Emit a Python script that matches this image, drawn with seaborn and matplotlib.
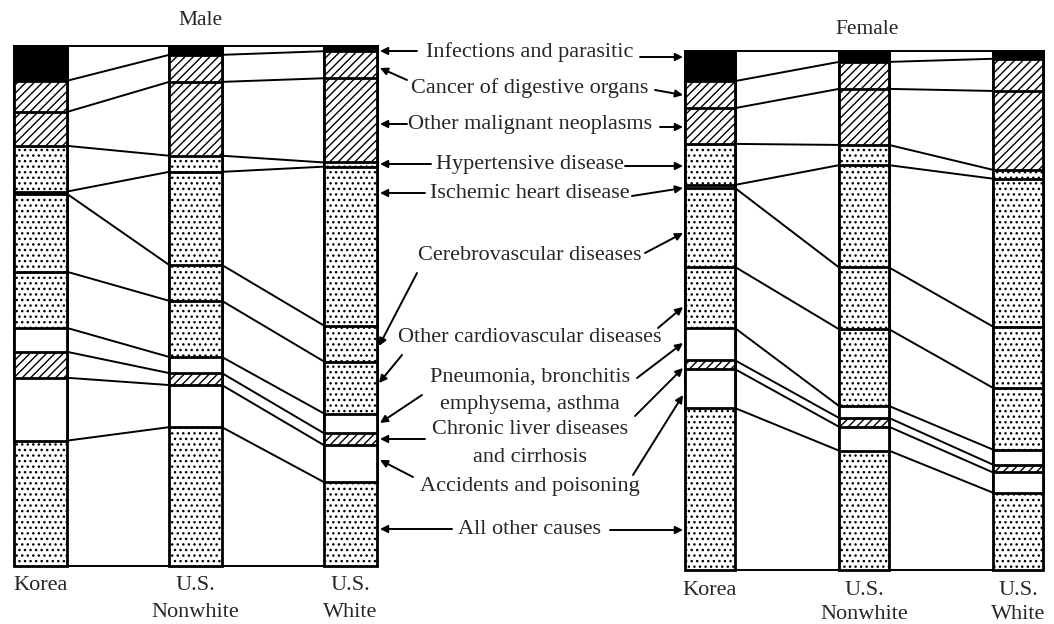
import numpy as np
import pandas as pd
import seaborn as sns
import matplotlib
matplotlib.use("Agg")
import matplotlib.pyplot as plt

# ---------------- data (percent of deaths, listed from top of bar) ----------------
causes = ["Infections and parasitic", "Cancer of digestive organs",
          "Other malignant neoplasms", "Hypertensive disease",
          "Ischemic heart disease", "Cerebrovascular diseases",
          "Other cardiovascular diseases", "Pneumonia, bronchitis emphysema, asthma",
          "Chronic liver diseases and cirrhosis", "Accidents and poisoning",
          "All other causes"]
populations = ["Korea", "U.S.\nNonwhite", "U.S.\nWhite"]

male_korea    = [6.7, 6.0, 6.5, 8.8, 0.4, 15.0, 10.8, 4.6, 5.0, 12.1, 24.1]
male_nonwhite = [1.7, 5.2, 14.2, 3.1, 17.9, 6.9, 10.8, 3.1, 2.3, 8.1, 26.7]
male_white    = [1.0, 5.2, 16.2, 0.8, 30.6, 6.9, 10.0, 3.8, 2.3, 7.1, 16.1]

female_korea    = [5.8, 5.2, 6.9, 7.9, 0.6, 15.2, 11.8, 6.2, 1.7, 7.5, 31.2]
female_nonwhite = [2.1, 5.2, 10.8, 3.9, 19.7, 11.9, 14.8, 2.3, 1.7, 4.6, 23.0]
female_white    = [1.5, 6.2, 15.2, 1.7, 28.5, 11.8, 11.9, 2.9, 1.5, 3.9, 14.9]

label_lines = [["Infections and parasitic"], ["Cancer of digestive organs"],
               ["Other malignant neoplasms"], ["Hypertensive disease"],
               ["Ischemic heart disease"], ["Cerebrovascular diseases"],
               ["Other cardiovascular diseases"],
               ["Pneumonia, bronchitis", "emphysema, asthma"],
               ["Chronic liver diseases", "and cirrhosis"],
               ["Accidents and poisoning"], ["All other causes"]]

# ---------------- styles ----------------
fills = ["black", "white", "white", "white", "white", "white", "white",
         "white", "white", "white", "white"]
hatches = [None, "////", "////", "...", "...", "...", "...",
           None, "////", None, "..."]

sns.set_theme(style="white")
plt.rcParams["font.family"] = ["Liberation Serif", "DejaVu Serif"]
plt.rcParams["hatch.linewidth"] = 1.0

W, H = 1054, 624
fig = plt.figure(figsize=(W / 100, H / 100), dpi=100)


def px_axes(l, t, r, b):
    return fig.add_axes([l / W, 1 - b / H, (r - l) / W, (b - t) / H])


def draw_panel(ax, series, width, title, title_pad, tick_pad, spacing):
    data = pd.DataFrame({"pop": np.repeat(populations, len(causes)),
                         "cause": causes * len(populations),
                         "value": np.concatenate(series)})
    data["cum"] = data.groupby("pop", sort=False)["value"].cumsum()
    # draw from the longest cumulative bar (all causes) to the shortest, each
    # layer covering the one below it
    for k in range(len(causes) - 1, -1, -1):
        layer = data[data["cause"] == causes[k]]
        sns.barplot(data=layer, x="pop", y="cum", order=populations,
                    color=fills[k], saturation=1, edgecolor="black",
                    linewidth=2.0, hatch=hatches[k], width=width,
                    errorbar=None, ax=ax)
    for p in ax.patches:
        p.set_clip_on(False)
    # connecting lines between adjacent bars
    for i in range(len(populations) - 1):
        a = np.concatenate([[0], np.cumsum(series[i])])
        b = np.concatenate([[0], np.cumsum(series[i + 1])])
        for ya, yb in zip(a, b):
            ax.plot([i + width / 2, i + 1 - width / 2], [ya, yb],
                    color="black", lw=1.4, clip_on=False)
    ax.set_ylim(100, 0)
    ax.set_xlim(-width / 2, 2 + width / 2)
    ax.set_yticks([])
    ax.set_xlabel("")
    ax.set_ylabel("")
    ax.tick_params(axis="x", length=0, pad=tick_pad, labelsize=16)
    ax.set_xticks(range(3))
    ax.set_xticklabels(populations, linespacing=spacing)
    for s in ax.spines.values():
        s.set_visible(False)
    ax.set_title(title, fontsize=15.5, pad=title_pad)


ax_m = px_axes(14, 46, 377, 566)
draw_panel(ax_m, [male_korea, male_nonwhite, male_white], 0.34, "Male",
           15, 7, 1.6)
ax_m.title.set_position((0.515, 1.0))
ax_f = px_axes(685, 51, 1043, 570)
draw_panel(ax_f, [female_korea, female_nonwhite, female_white], 0.325,
           "Female", 12, 8, 1.35)
ax_f.title.set_position((0.51, 1.0))

# ---------------- middle labels with arrows ----------------
label_y = [[52], [88], [125], [165], [193], [255], [338], [377, 405],
           [430, 457], [487], [529]]
for lines, ys in zip(label_lines, label_y):
    for txt, y in zip(lines, ys):
        fig.text(530 / W, 1 - y / H, txt, ha="center", va="center",
                 fontsize=16)

left_arrows = [((417, 51), (380, 51)), ((407, 80), (380, 68)),
               ((407, 124), (380, 124)), ((431, 164), (380, 164)),
               ((425, 193), (380, 193)), ((417, 273), (379, 346)),
               ((402, 355), (379, 383)), ((422, 395), (380, 423)),
               ((425, 439), (380, 439)), ((413, 477), (380, 460)),
               ((452, 529), (380, 529))]
right_arrows = [((640, 57), (683, 57)), ((655, 90), (683, 95)),
                ((660, 127), (683, 127)), ((625, 166), (683, 166)),
                ((632, 196), (683, 188)), ((645, 253), (683, 233)),
                ((658, 328), (683, 307)), ((637, 378), (683, 343)),
                ((635, 416), (683, 368)), ((633, 475), (683, 395)),
                ((610, 530), (683, 530))]
for (x1, y1), (x2, y2) in left_arrows + right_arrows:
    ax_m.annotate("", xy=(x2, H - y2), xytext=(x1, H - y1),
                  xycoords="figure pixels", textcoords="figure pixels",
                  annotation_clip=False,
                  arrowprops=dict(arrowstyle="-|>", color="black", lw=1.4,
                                  mutation_scale=11, shrinkA=0, shrinkB=0))

fig.savefig("out.png", dpi=100)
